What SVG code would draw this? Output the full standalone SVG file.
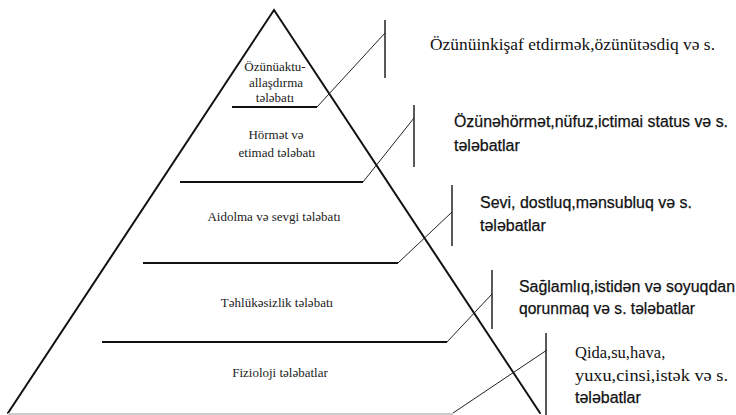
<svg xmlns="http://www.w3.org/2000/svg" width="736" height="415" viewBox="0 0 736 415">
<style>
.side{stroke:#111;stroke-width:2;fill:none;stroke-linecap:round}
.lvl{stroke:#111;stroke-width:2;fill:none}
.diag{stroke:#222;stroke-width:1;fill:none}
.vert{stroke:#222;stroke-width:1.5;fill:none}
.in{font-family:"Liberation Serif",serif;font-size:13px;fill:#222;text-anchor:middle}
.rs{font-family:"Liberation Serif",serif;font-size:16.5px;fill:#111}
.ra{font-family:"Liberation Sans",Arial,sans-serif;font-size:16px;fill:#111;stroke:#111;stroke-width:0.25}
</style>
<rect width="736" height="415" fill="#fff"/>
<g id="pyramid">
<path class="side" d="M8,413 L274,10 L540,413"/>
</g>
<g id="connectors">
<line class="lvl" x1="232" y1="107" x2="317" y2="107"/>
<polyline class="diag" points="317,107 385,33"/>
<line class="vert" x1="385" y1="20" x2="385" y2="78"/>
<line class="lvl" x1="180" y1="182" x2="363" y2="182"/>
<polyline class="diag" points="363,182 414,118"/>
<line class="vert" x1="414" y1="105" x2="414" y2="167"/>
<line class="lvl" x1="143" y1="263" x2="398" y2="263"/>
<polyline class="diag" points="398,263 452,212"/>
<line class="vert" x1="452" y1="185" x2="452" y2="246"/>
<line class="lvl" x1="102" y1="342" x2="447" y2="342"/>
<polyline class="diag" points="447,342 492,294"/>
<line class="vert" x1="492" y1="270" x2="492" y2="329"/>
<line x1="8" y1="414" x2="453" y2="414" stroke="#ccc" stroke-width="2"/>
<polyline class="diag" points="453,413 547,350"/>
<line class="vert" x1="546" y1="333" x2="546" y2="415"/>
</g>
<g id="level1">
<text class="in" x="275" y="71">Özünüaktu-</text>
<text class="in" x="276" y="87">allaşdırma</text>
<text class="in" x="275" y="102">tələbatı</text>
<text class="rs" x="430" y="50" textLength="285" lengthAdjust="spacingAndGlyphs">Özünüinkişaf etdirmək,özünütəsdiq və s.</text>
</g>
<g id="level2">
<text class="in" x="276" y="139">Hörmət və</text>
<text class="in" x="277" y="157">etimad tələbatı</text>
<text class="ra" x="454" y="127" textLength="274" lengthAdjust="spacingAndGlyphs">Özünəhörmət,nüfuz,ictimai status və s.</text>
<text class="ra" x="454" y="151">tələbatlar</text>
</g>
<g id="level3">
<text class="in" x="274" y="221">Aidolma və sevgi tələbatı</text>
<text class="ra" x="480" y="208" textLength="212" lengthAdjust="spacingAndGlyphs">Sevi, dostluq,mənsubluq və s.</text>
<text class="ra" x="480" y="231">tələbatlar</text>
</g>
<g id="level4">
<text class="in" x="277" y="307">Təhlükəsizlik tələbatı</text>
<text class="ra" x="519" y="292" textLength="216" lengthAdjust="spacingAndGlyphs">Sağlamlıq,istidən və soyuqdan</text>
<text class="ra" x="519" y="314" textLength="176" lengthAdjust="spacingAndGlyphs">qorunmaq və s. tələbatlar</text>
</g>
<g id="level5">
<text class="in" x="280" y="377">Fizioloji tələbatlar</text>
<text class="rs" x="575" y="358">Qida,su,hava,</text>
<text class="rs" x="575" y="381" textLength="153" lengthAdjust="spacingAndGlyphs">yuxu,cinsi,istək və s.</text>
<text class="ra" x="575" y="403">tələbatlar</text>
</g>
</svg>
